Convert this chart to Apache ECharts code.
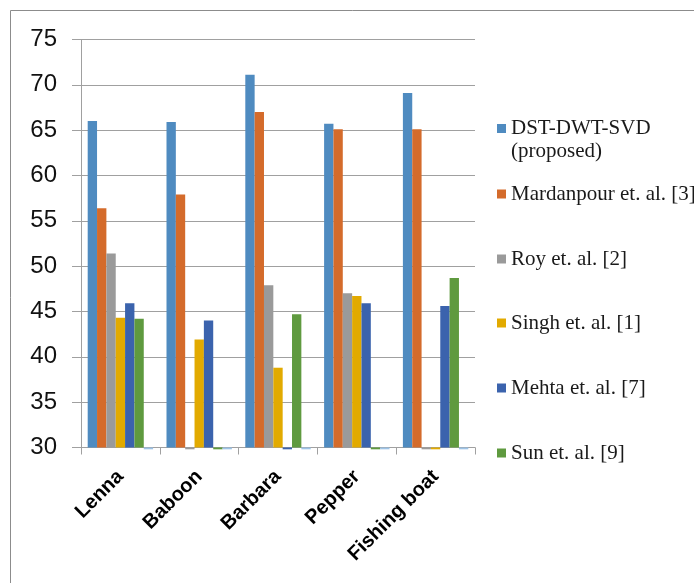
<!DOCTYPE html>
<html>
<head>
<meta charset="utf-8">
<script src="https://cdn.jsdelivr.net/npm/echarts@6/dist/echarts.min.js"></script>
<style>html,body{margin:0;padding:0;background:#fff;}#c{width:694px;height:583px;}</style>
</head>
<body>
<div id="c"></div>
<script>
var categories = ['Lenna', 'Baboon', 'Barbara', 'Pepper', 'Fishing boat'];
var seriesNames = ['DST-DWT-SVD (proposed)', 'Mardanpour et. al. [3]', 'Roy et. al. [2]', 'Singh et. al. [1]', 'Mehta et. al. [7]', 'Sun et. al. [9]', 'Series7'];
var dstDwtSvd = [66.0, 65.9, 71.1, 65.7, 69.1];
var mardanpour = [56.4, 57.9, 67.0, 65.1, 65.1];
var roy = [51.4, 29.8, 47.9, 47.0, 29.8];
var singh = [44.3, 41.9, 38.8, 46.7, 29.8];
var mehta = [45.9, 44.0, 29.8, 45.9, 45.6];
var sun = [44.2, 29.8, 44.7, 29.8, 48.7];
var series7 = [29.8, 29.8, 29.8, 29.8, 29.8];
var yTicks = [30, 35, 40, 45, 50, 55, 60, 65, 70, 75];

var colors = ['#4f8bc0', '#d46b2b', '#9a9a9a', '#e2aa00', '#3b63ad', '#5f9a3f', '#9dc3e6'];
var allData = [dstDwtSvd, mardanpour, roy, singh, mehta, sun, series7];

var chart = echarts.init(document.getElementById('c'), null, {renderer: 'canvas'});

var series = allData.map(function (d, i) {
  return {
    name: seriesNames[i],
    type: 'bar',
    data: d,
    barGap: '0%',
    barCategoryGap: '17%',
    clip: false,
    itemStyle: {color: colors[i]},
    animation: false
  };
});

var legendTops = [94, 183.5, 248.5, 312.5, 377.5, 442.5];
var legends = legendTops.map(function (t, i) {
  var lg = {
    left: 497,
    top: t,
    orient: 'vertical',
    padding: 0,
    icon: 'rect',
    itemWidth: 9,
    itemHeight: 9,
    itemGap: 0,
    selectedMode: false,
    data: [seriesNames[i]],
    textStyle: {fontFamily: 'Liberation Serif', fontSize: 21, color: '#1a1a1a'}
  };
  if (i === 0) {
    lg.formatter = function () { return ' \nDST-DWT-SVD\n(proposed)'; };
    lg.textStyle.lineHeight = 23;
  }
  return lg;
});

chart.setOption({
  animation: false,
  backgroundColor: '#fff',
  color: colors,
  graphic: [{
    type: 'rect',
    shape: {x: 10.5, y: 10.5, width: 720, height: 620},
    style: {fill: 'none', stroke: '#8c8c8c', lineWidth: 1},
    silent: true
  }],
  legend: legends,
  grid: {left: 81, right: 219, top: 39.5, bottom: 135.5, containLabel: false},
  xAxis: {
    type: 'category',
    data: categories,
    axisLine: {show: true, lineStyle: {color: '#a0a0a0', width: 1}},
    axisTick: {show: true, length: 7, alignWithLabel: false, lineStyle: {color: '#a0a0a0'}},
    axisLabel: {
      rotate: 45,
      margin: 26,
      fontFamily: 'Liberation Sans',
      fontWeight: 'bold',
      fontSize: 20,
      color: '#000',
      interval: 0
    }
  },
  yAxis: {
    type: 'value',
    min: 30,
    max: 75,
    interval: 5,
    startValue: 30,
    axisLine: {show: true, lineStyle: {color: '#a0a0a0', width: 1}},
    axisTick: {show: true, length: 9, lineStyle: {color: '#a0a0a0'}},
    splitLine: {show: true, lineStyle: {color: '#a0a0a0', width: 1}},
    axisLabel: {
      margin: 24,
      fontFamily: 'Liberation Sans',
      fontSize: 24,
      color: '#111',
      formatter: function (v) { return yTicks.indexOf(v) >= 0 ? String(v) : ''; }
    }
  },
  series: series
});
</script>
</body>
</html>
